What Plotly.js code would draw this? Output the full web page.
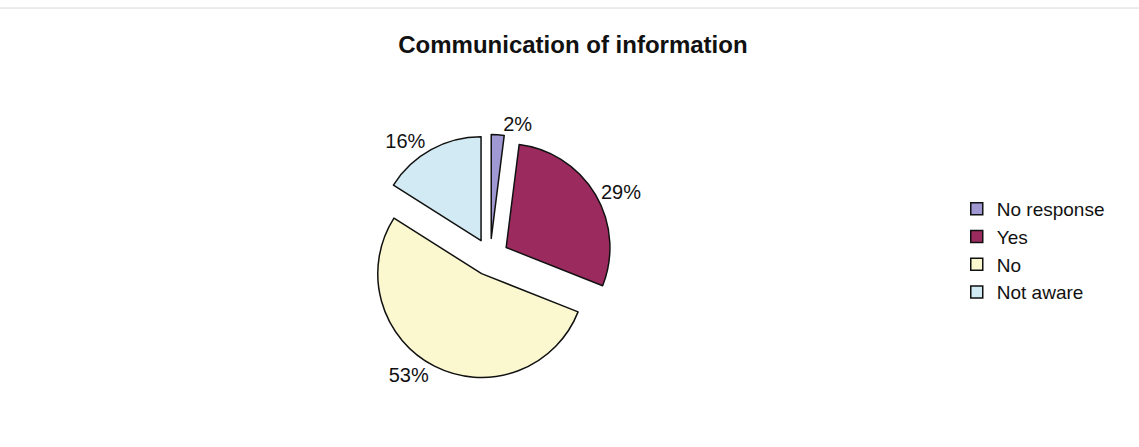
<!DOCTYPE html>
<html><head><meta charset="utf-8">
<script src="https://cdn.plot.ly/plotly-3.0.1.min.js"></script>
<style>html,body{margin:0;padding:0;background:#fff}#chart{width:1139px;height:447px}</style>
</head><body><div id="chart"></div>
<script>
const categories = ["No response", "Yes", "No", "Not aware"];
const values = [2, 29, 53, 16];
const colors = ["#9f98d2", "#9b2b5f", "#fbf8d0", "#d2eaf3"];

const trace = {
  type: "pie",
  labels: categories,
  values: values,
  sort: false,
  direction: "clockwise",
  rotation: 0,
  pull: [0.18, 0.18, 0.18, 0.18],
  marker: {colors: colors, line: {color: "#111", width: 1.5}},
  textinfo: "percent",
  texttemplate: "%{percent:.0%}",
  textposition: "outside",
  outsidetextfont: {family: "Arial, Liberation Sans, sans-serif", size: 20, color: "#111"},
  domain: {x: [0.3227, 0.5378], y: [0.151, 0.699]},
  hoverinfo: "label+percent"
};

const layout = {
  width: 1139, height: 447,
  margin: {l: 0, r: 0, t: 0, b: 0},
  paper_bgcolor: "#fff",
  title: {text: "<b>Communication of information</b>", x: 0.503, xanchor: "center", y: 0.9, yanchor: "middle",
          font: {family: "Arial, Liberation Sans, sans-serif", size: 24, color: "#111"}},
  showlegend: true,
  legend: {x: 0.84, xanchor: "left", y: 0.575, yanchor: "top",
           font: {family: "Arial, Liberation Sans, sans-serif", size: 19, color: "#111"},
           tracegroupgap: 0, itemwidth: 30},
  shapes: [{type: "line", xref: "paper", yref: "paper", x0: 0, x1: 1, y0: 0.982, y1: 0.982, line: {color: "#d8d8d8", width: 1}}]
};
Plotly.newPlot("chart", [trace], layout, {displayModeBar: false, staticPlot: true});
</script></body></html>
